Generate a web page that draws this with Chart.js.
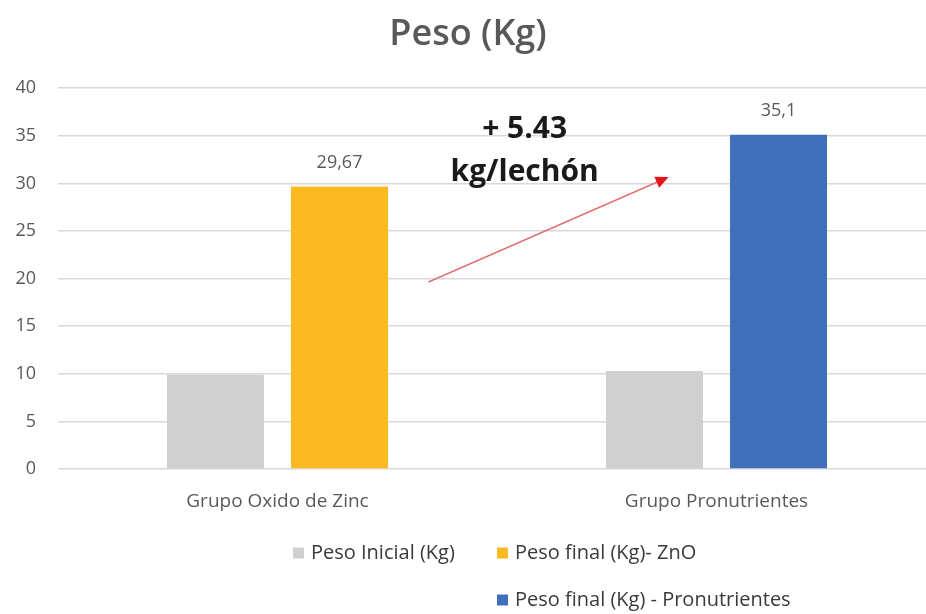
<!DOCTYPE html>
<html lang="es">
<head>
<meta charset="utf-8">
<title>Peso (Kg)</title>
<script src="https://cdn.jsdelivr.net/npm/chart.js@4.4.1/dist/chart.umd.min.js"></script>
<style>
  html, body { margin: 0; padding: 0; background: #fff; overflow: hidden; }
  #wrap { position: relative; width: 936px; height: 614px; }
</style>
</head>
<body>
<div id="wrap"><canvas id="pesoChart"></canvas></div>
<script>
// Datos
const grupos = ['Grupo Oxido de Zinc', 'Grupo Pronutrientes'];
const pesoInicial = [9.9, 10.3];
const pesoFinalZnO = [29.67, null];
const pesoFinalPronutrientes = [null, 35.1];
const yMin = 0, yMax = 40, yStep = 5;
const notaDiferencia = ['+ 5.43', 'kg/lechón'];

// Posición de la nota y la flecha (índice de grupo, valor en kg)
const notaPos = { x: 0.563, y1: 34.77, y2: 30.25 };
const flecha = { desde: [0.344, 19.64], hasta: [0.891, 30.67] };

const FUENTE = "'Open Sans', sans-serif";
const GRIS_TEXTO = '#595959';

// Etiquetas de valor encima de las barras de peso final
const etiquetasValor = {
  id: 'etiquetasValor',
  afterDatasetsDraw(chart) {
    const ctx = chart.ctx;
    ctx.save();
    ctx.font = '18px ' + FUENTE;
    ctx.fillStyle = GRIS_TEXTO;
    ctx.textAlign = 'center';
    ctx.textBaseline = 'middle';
    [1, 2].forEach(i => {
      const meta = chart.getDatasetMeta(i);
      chart.data.datasets[i].data.forEach((v, j) => {
        if (v === null) return;
        const bar = meta.data[j];
        ctx.fillText(String(v).replace('.', ','), bar.x, bar.y - 24);
      });
    });
    ctx.restore();
  }
};

// Flecha roja y texto de la diferencia
const notaFlecha = {
  id: 'notaFlecha',
  afterDraw(chart) {
    const ctx = chart.ctx;
    const sx = chart.scales.x, sy = chart.scales.y;
    const x1 = sx.getPixelForValue(flecha.desde[0]), y1 = sy.getPixelForValue(flecha.desde[1]);
    const x2 = sx.getPixelForValue(flecha.hasta[0]), y2 = sy.getPixelForValue(flecha.hasta[1]);
    const ang = Math.atan2(y2 - y1, x2 - x1);
    ctx.save();
    ctx.strokeStyle = '#e27272';
    ctx.lineWidth = 1.5;
    ctx.beginPath();
    ctx.moveTo(x1, y1);
    ctx.lineTo(x2 - 8 * Math.cos(ang), y2 - 8 * Math.sin(ang));
    ctx.stroke();
    // punta
    ctx.fillStyle = '#e8141b';
    ctx.beginPath();
    ctx.moveTo(x2, y2);
    ctx.lineTo(x2 - 13 * Math.cos(ang) + 6 * Math.sin(ang), y2 - 13 * Math.sin(ang) - 6 * Math.cos(ang));
    ctx.lineTo(x2 - 13 * Math.cos(ang) - 6 * Math.sin(ang), y2 - 13 * Math.sin(ang) + 6 * Math.cos(ang));
    ctx.closePath();
    ctx.fill();
    // texto
    ctx.font = 'bold 30px ' + FUENTE;
    ctx.fillStyle = '#1a1a1a';
    ctx.textAlign = 'center';
    ctx.textBaseline = 'alphabetic';
    const tx = sx.getPixelForValue(notaPos.x);
    ctx.fillText(notaDiferencia[0], tx, sy.getPixelForValue(notaPos.y1));
    ctx.fillText(notaDiferencia[1], tx, sy.getPixelForValue(notaPos.y2));
    ctx.restore();
  }
};

// Leyenda en dos columnas (la tercera serie va bajo la segunda)
const leyenda = {
  id: 'leyenda',
  afterDraw(chart) {
    const ctx = chart.ctx;
    const cx = chart.width / 2;
    const h = chart.height;
    const celdas = [
      { x: cx - 175, y: h - 61 },
      { x: cx + 29, y: h - 61 },
      { x: cx + 29, y: h - 14 }
    ];
    ctx.save();
    ctx.font = '20px ' + FUENTE;
    ctx.textAlign = 'left';
    ctx.textBaseline = 'middle';
    chart.data.datasets.forEach((ds, i) => {
      const c = celdas[i];
      ctx.fillStyle = ds.backgroundColor;
      ctx.fillRect(c.x, c.y - 5.5, 11, 11);
      ctx.fillStyle = '#3a3a3a';
      ctx.fillText(ds.label, c.x + 18, c.y);
    });
    ctx.restore();
  }
};

new Chart(document.getElementById('pesoChart'), {
  type: 'bar',
  data: {
    labels: grupos,
    datasets: [
      { label: 'Peso Inicial (Kg)', data: pesoInicial, backgroundColor: '#d0d0d0' },
      { label: 'Peso final (Kg)- ZnO', data: pesoFinalZnO, backgroundColor: '#fbb922' },
      { label: 'Peso final (Kg) - Pronutrientes', data: pesoFinalPronutrientes, backgroundColor: '#4170bb' }
    ]
  },
  options: {
    responsive: true,
    maintainAspectRatio: false,
    animation: false,
    skipNull: true,
    categoryPercentage: 0.565,
    barPercentage: 0.782,
    layout: { padding: 0 },
    plugins: {
      legend: { display: false },
      tooltip: { enabled: false },
      title: {
        display: true,
        text: 'Peso (Kg)',
        color: GRIS_TEXTO,
        font: { family: FUENTE, size: 36, weight: '600' },
        padding: { top: 13, bottom: 32 }
      }
    },
    scales: {
      x: {
        grid: { display: false, drawTicks: false },
        border: { display: false },
        ticks: { color: GRIS_TEXTO, font: { family: FUENTE, size: 19 }, padding: 21 },
        afterFit(scale) { scale.height = 145; }
      },
      y: {
        min: yMin,
        max: yMax,
        ticks: { stepSize: yStep, color: GRIS_TEXTO, font: { family: FUENTE, size: 18 }, padding: 22 },
        grid: { color: '#d9d9d9', lineWidth: 1.5, drawTicks: false },
        border: { display: false },
        afterFit(scale) { scale.width = 58; }
      }
    }
  },
  plugins: [etiquetasValor, notaFlecha, leyenda]
});
</script>
</body>
</html>
